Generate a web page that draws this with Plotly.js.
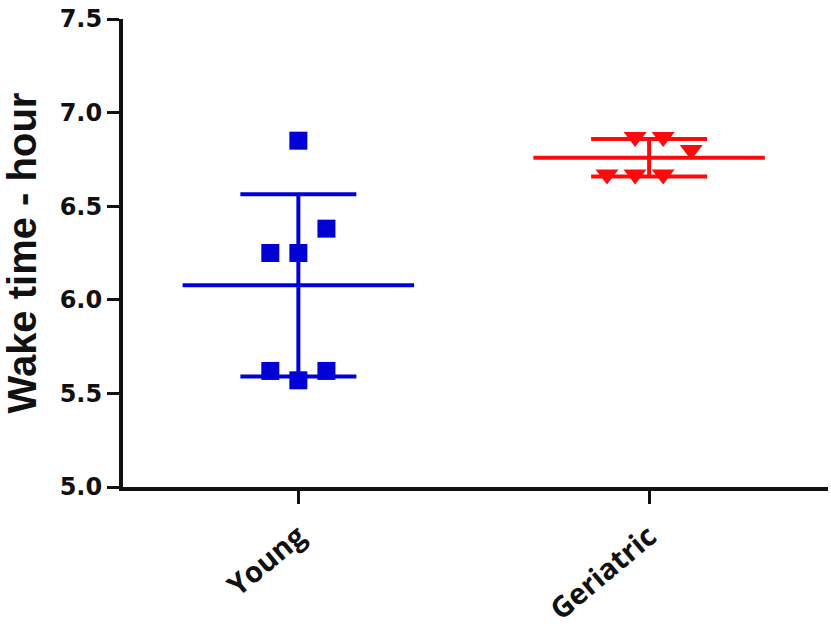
<!DOCTYPE html>
<html>
<head>
<meta charset="utf-8">
<script src="https://cdn.plot.ly/plotly-3.0.1.min.js"></script>
<style>
  html, body { margin: 0; padding: 0; background: #fff; }
  #chart { width: 831px; height: 636px; }
</style>
</head>
<body>
<div id="chart"></div>
<script>
// groups on the x axis
const groups = ['Young', 'Geriatric'];

// wake time (hours)
const youngValues = [6.85, 6.38, 6.25, 6.25, 5.62, 5.57, 5.62];
const geriatricValues = [6.87, 6.87, 6.80, 6.67, 6.67, 6.67];

// horizontal scatter of the dots, in dot widths from the group centre
const youngSpread = [0, 1, -1, 0, -1, 0, 1];
const geriatricSpread = [-0.5, 0.5, 1.5, -1.5, -0.5, 0.5];

const BLUE = '#0000d6';
const RED = '#ff0a0a';
const DOT_STEP = 0.08;   // x units between neighbouring dots
const MEAN_HALF = 0.33;  // half length of the mean line, x units

function mean (arr) {
  return arr.reduce((a, b) => a + b, 0) / arr.length;
}

function sd (arr) {
  const m = mean(arr);
  const ss = arr.reduce((a, b) => a + (b - m) * (b - m), 0);
  return Math.sqrt(ss / (arr.length - 1));
}

function groupTraces (idx, values, spread, color, symbol, size) {
  const m = mean(values);
  const s = sd(values);
  return [
    // mean line
    {
      type: 'scatter',
      mode: 'lines',
      x: [idx - MEAN_HALF, idx + MEAN_HALF],
      y: [m, m],
      line: { color: color, width: 4 },
      hoverinfo: 'skip'
    },
    // +/- SD whisker
    {
      type: 'scatter',
      mode: 'markers',
      x: [idx],
      y: [m],
      marker: { size: 1, color: color, opacity: 0 },
      error_y: {
        type: 'data',
        array: [s],
        visible: true,
        color: color,
        thickness: 4,
        width: 58
      },
      hoverinfo: 'skip'
    },
    // individual points
    {
      type: 'scatter',
      mode: 'markers',
      name: groups[idx],
      x: spread.map(d => idx + d * DOT_STEP),
      y: values,
      marker: { color: color, size: size, symbol: symbol, line: { width: 0 } }
    }
  ];
}

const data = [].concat(
  groupTraces(0, youngValues, youngSpread, BLUE, 'square', 18),
  groupTraces(1, geriatricValues, geriatricSpread, RED, 'triangle-down', 20)
);

const layout = {
  width: 831,
  height: 636,
  showlegend: false,
  paper_bgcolor: '#fff',
  plot_bgcolor: '#fff',
  margin: { l: 123, r: 3, t: 19, b: 149 },
  xaxis: {
    range: [-0.5, 1.51],
    tickvals: [0, 1],
    ticktext: groups,
    tickangle: -40,
    ticklabelstandoff: 4,
    tickfont: { family: '"Open Sans", sans-serif', size: 29, weight: 'bold', color: '#111' },
    showline: true,
    linecolor: '#111',
    linewidth: 4,
    ticks: 'outside',
    ticklen: 13,
    tickwidth: 3,
    tickcolor: '#111',
    showgrid: false,
    zeroline: false
  },
  yaxis: {
    range: [5, 7.5],
    dtick: 0.5,
    tick0: 5,
    tickformat: '.1f',
    tickfont: { family: '"DejaVu Sans", sans-serif', size: 24, weight: 'bold', color: '#111' },
    showline: true,
    linecolor: '#111',
    linewidth: 4,
    ticks: 'outside',
    ticklen: 12,
    tickwidth: 3,
    tickcolor: '#111',
    showgrid: false,
    zeroline: false,
    title: {
      text: 'Wake time - hour',
      font: { family: '"Liberation Sans", Arial, sans-serif', size: 40, weight: 'bold', color: '#111' },
      standoff: 16
    }
  }
};

Plotly.newPlot('chart', data, layout, { displayModeBar: false, staticPlot: true });
</script>
</body>
</html>
